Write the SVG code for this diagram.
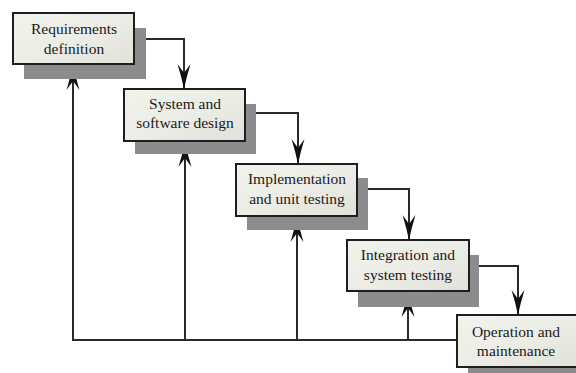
<svg xmlns="http://www.w3.org/2000/svg" width="576" height="373" viewBox="0 0 576 373">
<defs>
<linearGradient id="g" x1="0" y1="0" x2="1" y2="1">
<stop offset="0" stop-color="#f2f2ec"/>
<stop offset="0.5" stop-color="#ecede6"/>
<stop offset="1" stop-color="#e0e2da"/>
</linearGradient>
<marker id="ah" viewBox="-26 -8 27 16" markerWidth="27" markerHeight="16" refX="0" refY="0" orient="auto" markerUnits="userSpaceOnUse">
<path d="M0,0 Q-12,-2.5 -25,-6.5 L-16,0 L-25,6.5 Q-12,2.5 0,0 Z" fill="#111"/>
</marker>
<style>
.shadow{fill:#8c8c8c}
.box{fill:url(#g);stroke:#1e1e1e;stroke-width:2}
.t{font-family:"Liberation Serif",serif;font-size:15.5px;fill:#1a1a1a;text-anchor:middle}
.c{fill:none;stroke:#2a2a2a;stroke-width:2}
.a{marker-end:url(#ah)}
</style>
</defs>
<rect width="576" height="373" fill="#fff"/>
<g id="connectors">
<path class="c a" d="M134,39 H184 V89"/>
<path class="c a" d="M245,113 H298 V164"/>
<path class="c a" d="M357,189 H409 V240"/>
<path class="c a" d="M469,266 H518 V315"/>
<path class="c a" d="M457,340 H73 V65"/>
<path class="c a" d="M185,340 V142"/>
<path class="c a" d="M297,340 V217"/>
<path class="c a" d="M408,340 V292"/>
</g>
<g id="requirements">
<rect class="shadow" x="24" y="28" width="122" height="51"/>
<rect class="box" x="13" y="13" width="121" height="51"/>
<text class="t" x="74" y="34">Requirements</text>
<text class="t" x="74" y="54">definition</text>
</g>
<g id="design">
<rect class="shadow" x="135" y="104" width="121" height="50"/>
<rect class="box" x="124" y="89" width="121" height="52"/>
<text class="t" x="185" y="109">System and</text>
<text class="t" x="185" y="128">software design</text>
</g>
<g id="implementation">
<rect class="shadow" x="247" y="178" width="121" height="52"/>
<rect class="box" x="236" y="164" width="121" height="52"/>
<text class="t" x="297" y="184">Implementation</text>
<text class="t" x="297" y="204">and unit testing</text>
</g>
<g id="integration">
<rect class="shadow" x="358" y="255" width="121" height="52"/>
<rect class="box" x="347" y="240" width="122" height="51"/>
<text class="t" x="408" y="260">Integration and</text>
<text class="t" x="408" y="280">system testing</text>
</g>
<g id="operation">
<rect class="shadow" x="468" y="330" width="121" height="52"/>
<rect class="box" x="457" y="315" width="121" height="52"/>
<text class="t" x="516" y="337">Operation and</text>
<text class="t" x="516" y="356">maintenance</text>
</g>
</svg>
